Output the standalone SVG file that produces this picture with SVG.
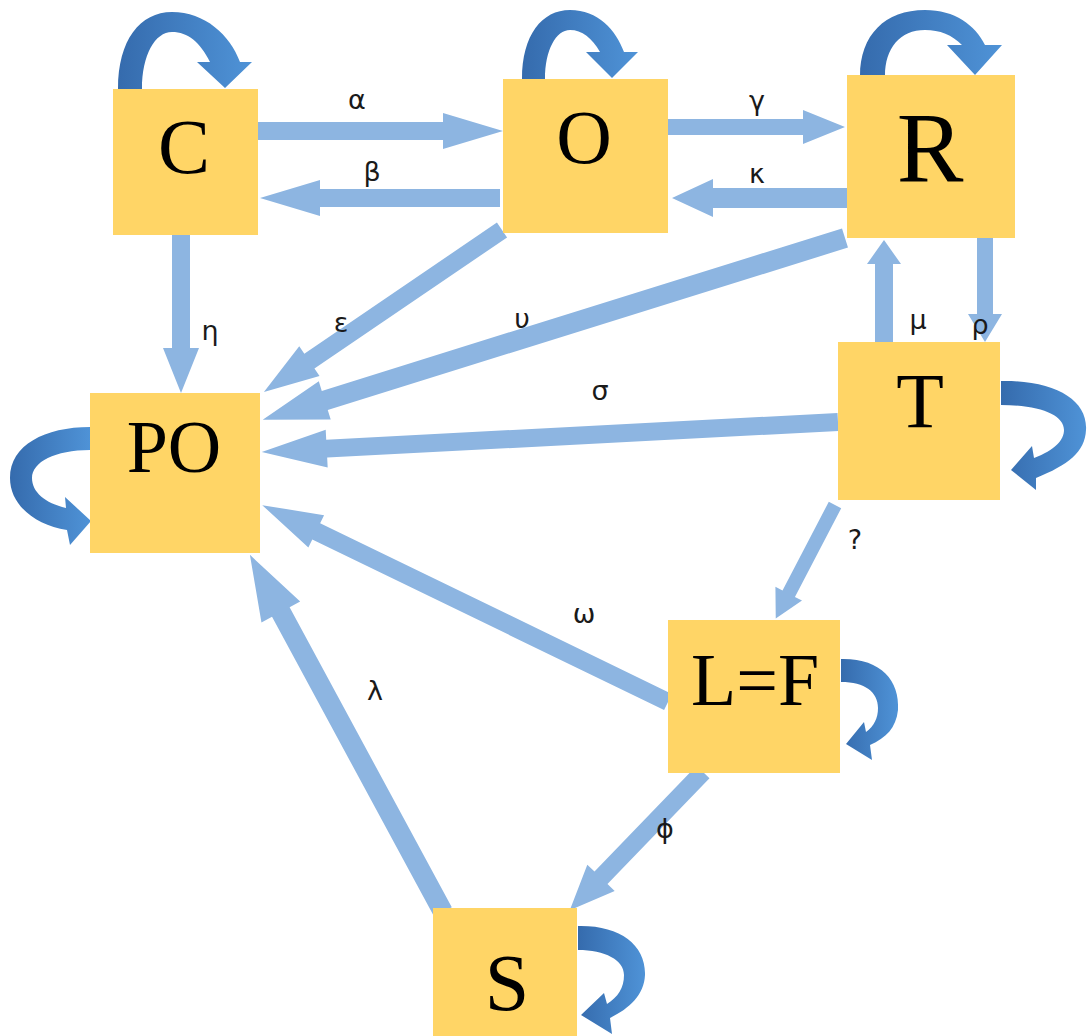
<svg xmlns="http://www.w3.org/2000/svg" width="1089" height="1036" viewBox="0 0 1089 1036">
  <style>
    .box { fill: #FFD566; }
    .name { font-family: "Liberation Serif", "Times New Roman", serif; fill: #000; text-anchor: middle; }
    .flow { fill: #8DB5E1; }
    .loop { fill: url(#loopGrad); }
    .rate { font-family: "DejaVu Sans", Verdana, sans-serif; font-size: 27px; fill: #1a1a1a; text-anchor: middle; }
  </style>
  <defs>
    <linearGradient id="loopGrad" x1="0" y1="0" x2="1" y2="0">
      <stop offset="0" stop-color="#356BAD"/>
      <stop offset="1" stop-color="#4F93D7"/>
    </linearGradient>
  </defs>
  <rect width="1089" height="1036" fill="#FFFFFF"/>

  <g id="connectors">
    <!-- straight transitions: shaft + head, drawn along +x then rotated -->
    <path class="flow" d="M0,-9H185V-18L245,0L185,18V9H0Z" transform="translate(258,131)"/>
    <path class="flow" d="M0,-9H180V-18L240,0L180,18V9H0Z" transform="translate(500,198) rotate(180)"/>
    <path class="flow" d="M0,-8H135V-17L177,0L135,17V8H0Z" transform="translate(668,127)"/>
    <path class="flow" d="M0,-10H134V-19L175,0L134,19V10H0Z" transform="translate(847,198) rotate(180)"/>
    <path class="flow" d="M0,-9H113V-18L158,0L113,18V9H0Z" transform="translate(181,235) rotate(90)"/>
    <path class="flow" d="M0,-9H78V-17L102,0L78,17V9H0Z" transform="translate(884,342) rotate(-90)"/>
    <path class="flow" d="M0,-8H76V-17L104,0L76,17V8H0Z" transform="translate(985,238) rotate(90)"/>
    <path class="flow" d="M0,-9H233V-18L288,0L233,18V9H0Z" transform="translate(502,230) rotate(145.76)"/>
    <path class="flow" d="M0,-10H545V-20L610,0L545,20V10H0Z" transform="translate(845,238) rotate(162.66)"/>
    <path class="flow" d="M0,-9H512V-19L577,0L512,19V9H0Z" transform="translate(838,422) rotate(177.02)"/>
    <path class="flow" d="M0,-9H391V-18L451,0L391,18V9H0Z" transform="translate(668,702) rotate(-154.12)"/>
    <path class="flow" d="M0,-10H341V-22L406,0L341,22V10H0Z" transform="translate(443,912) rotate(-118.4)"/>
    <path class="flow" d="M0,-9H147V-19L192,0L147,19V9H0Z" transform="translate(703,772) rotate(133.94)"/>
    <path class="flow" d="M0,-7H100V-15L128,0L100,15V7H0Z" transform="translate(835,505) rotate(117.57)"/>

    <!-- self transitions -->
    <path class="loop" d="M118,89 C118,40 140,12 172,12 C205,12 230,35 240,62 L252,62 L225,88 L197,62 L210,62 C200,42 188,32 172,32 C155,32 142,55 142,89 Z"/>
    <path class="loop" d="M522,79 C522,35 542,10 570,10 C598,10 616,30 624,52 L638,52 L612,78 L586,52 L600,52 C592,38 582,30 570,30 C556,30 545,50 545,79 Z"/>
    <path class="loop" d="M860,76 C860,35 885,10 925,10 C955,10 975,25 985,45 L1002,45 L975,75 L947,45 L962,45 C952,35 940,30 925,30 C900,30 885,48 885,76 Z"/>
    <path class="loop" d="M1001,381 C1055,380 1088,400 1086,430 C1085,452 1068,465 1036,478 L1036,490 L1011,470 L1032,446 L1034,458 C1055,450 1064,440 1064,430 C1064,415 1040,405 1001,405 Z"/>
    <path class="loop" d="M90,427 C45,427 10,445 10,478 C10,505 35,525 67,530 L70,545 L91,521 L65,497 L66,508 C45,503 32,492 32,478 C32,462 55,450 90,450 Z"/>
    <path class="loop" d="M841,659 C880,658 900,680 898,710 C896,728 886,738 870,745 L872,760 L846,744 L864,722 L866,732 C874,726 878,718 878,708 C878,692 865,682 841,682 Z"/>
    <path class="loop" d="M578,926 C620,925 646,945 645,975 C644,995 630,1008 610,1018 L612,1034 L581,1015 L604,993 L607,1004 C618,997 624,988 624,975 C624,960 605,950 578,950 Z"/>

    <!-- rate labels -->
    <text class="rate" x="357" y="109">α</text>
    <text class="rate" x="372" y="181">β</text>
    <text class="rate" x="757" y="110">γ</text>
    <text class="rate" x="757" y="183">κ</text>
    <text class="rate" x="210" y="340">η</text>
    <text class="rate" x="341" y="332">ε</text>
    <text class="rate" x="522" y="328">υ</text>
    <text class="rate" x="918" y="329">μ</text>
    <text class="rate" x="980" y="334">ρ</text>
    <text class="rate" x="600" y="400">σ</text>
    <text class="rate" x="855" y="549">?</text>
    <text class="rate" x="584" y="623">ω</text>
    <text class="rate" x="375" y="700">λ</text>
    <text class="rate" x="665" y="838">ϕ</text>
  </g>

  <g id="node-C">
    <rect class="box" x="113" y="89" width="145" height="146"/>
    <text class="name" x="184" y="173" font-size="78">C</text>
  </g>
  <g id="node-O">
    <rect class="box" x="503" y="79" width="165" height="154"/>
    <text class="name" x="584" y="163" font-size="77">O</text>
  </g>
  <g id="node-R">
    <rect class="box" x="847" y="75" width="168" height="163"/>
    <text class="name" x="930" y="181" font-size="100">R</text>
  </g>
  <g id="node-PO">
    <rect class="box" x="90" y="393" width="170" height="160"/>
    <text class="name" x="174" y="472" font-size="74">PO</text>
  </g>
  <g id="node-T">
    <rect class="box" x="838" y="342" width="162" height="158"/>
    <text class="name" x="920" y="427" font-size="78">T</text>
  </g>
  <g id="node-LF">
    <rect class="box" x="668" y="620" width="172" height="153"/>
    <text class="name" x="755" y="705" font-size="74">L=F</text>
  </g>
  <g id="node-S">
    <rect class="box" x="433" y="908" width="144" height="128"/>
    <text class="name" x="507" y="1010" font-size="80">S</text>
  </g>
</svg>
